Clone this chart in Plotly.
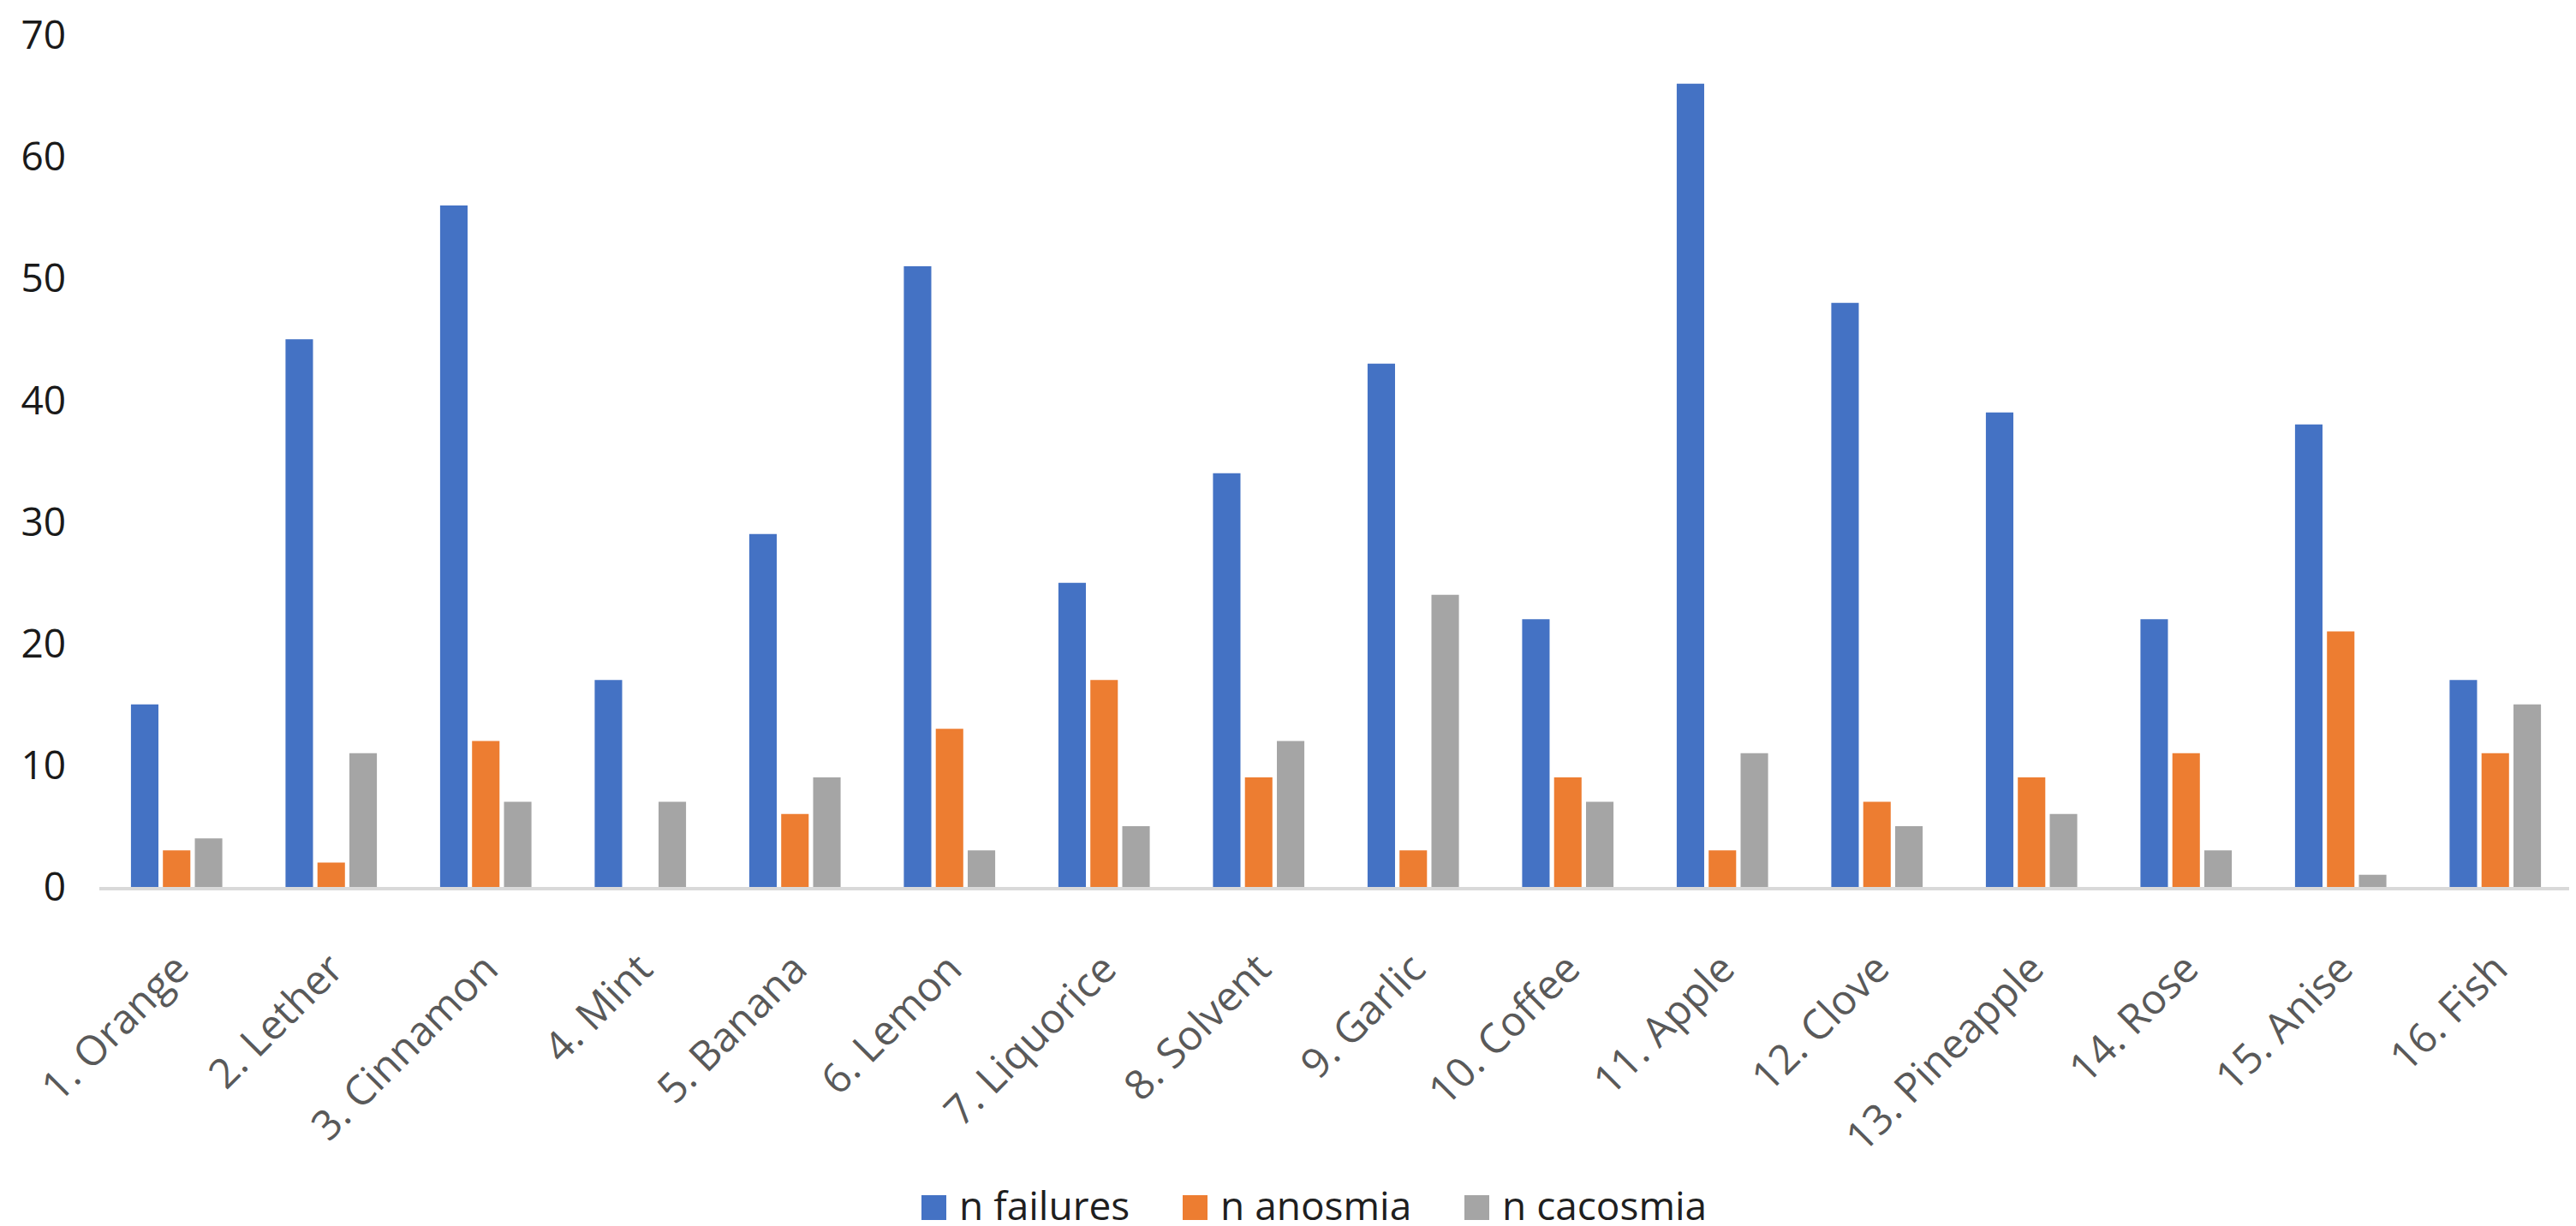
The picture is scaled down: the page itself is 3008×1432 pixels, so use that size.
import plotly.graph_objects as go

categories = ["1. Orange", "2. Lether", "3. Cinnamon", "4. Mint", "5. Banana", "6. Lemon",
              "7. Liquorice", "8. Solvent", "9. Garlic", "10. Coffee", "11. Apple", "12. Clove",
              "13. Pineapple", "14. Rose", "15. Anise", "16. Fish"]
n_failures = [15, 45, 56, 17, 29, 51, 25, 34, 43, 22, 66, 48, 39, 22, 38, 17]
n_anosmia = [3, 2, 12, 0, 6, 13, 17, 9, 3, 9, 3, 7, 9, 11, 21, 11]
n_cacosmia = [4, 11, 7, 7, 9, 3, 5, 12, 24, 7, 11, 5, 6, 3, 1, 15]
series_names = ["n failures", "n anosmia", "n cacosmia"]
series_colors = ["#4472C4", "#ED7D31", "#A5A5A5"]
y_ticks = [0, 10, 20, 30, 40, 50, 60, 70]

W, H = 3008, 1432
ML, MR, MT, MB = 108, 12, 33, 404
PW, PH = W - ML - MR, H - MT - MB

fig = go.Figure()
for name, vals, col in zip(series_names, [n_failures, n_anosmia, n_cacosmia], series_colors):
    fig.add_trace(go.Bar(x=categories, y=vals, name=name, marker=dict(color=col, line=dict(width=0)),
                         showlegend=False))

# custom legend (to match the large legend keys)
def px2paper_x(px):
    return (px - ML) / PW

def px2paper_y(py):
    return (H - MB - py) / PH

legend_key_x = [1068, 1373, 1702]
key_w, key_top, key_bot = 29, 1388, 1417
shapes = []
annotations = []
for name, col, kx in zip(series_names, series_colors, legend_key_x):
    shapes.append(dict(type="rect", xref="paper", yref="paper",
                       x0=px2paper_x(kx), x1=px2paper_x(kx + key_w),
                       y0=px2paper_y(key_bot), y1=px2paper_y(key_top),
                       fillcolor=col, line=dict(width=0)))
    annotations.append(dict(xref="paper", yref="paper", x=px2paper_x(kx + key_w + 14),
                            y=px2paper_y(1399), text=name, showarrow=False,
                            xanchor="left", yanchor="middle", borderpad=0,
                            font=dict(family="Open Sans", size=46, color="#1f1f1f")))

fig.update_layout(
    width=W, height=H,
    margin=dict(l=ML, r=MR, t=MT, b=MB, autoexpand=False),
    paper_bgcolor="white", plot_bgcolor="white",
    barmode="group", bargap=0.38, bargroupgap=0.14,
    shapes=shapes, annotations=annotations,
    xaxis=dict(type="category", showgrid=False, showline=True, linecolor="#D9D9D9", linewidth=4,
               ticks="", tickangle=-45, ticklabelstandoff=44,
               tickfont=dict(family="Open Sans", size=48, color="#595959"), zeroline=False),
    yaxis=dict(range=[0, 70], tickvals=y_ticks, showgrid=False, showline=False, zeroline=False,
               ticks="", ticklabelstandoff=38, ticklabeloverflow="allow",
               tickfont=dict(family="Open Sans", size=46, color="#1a1a1a")),
)

fig.write_html("out.html")
